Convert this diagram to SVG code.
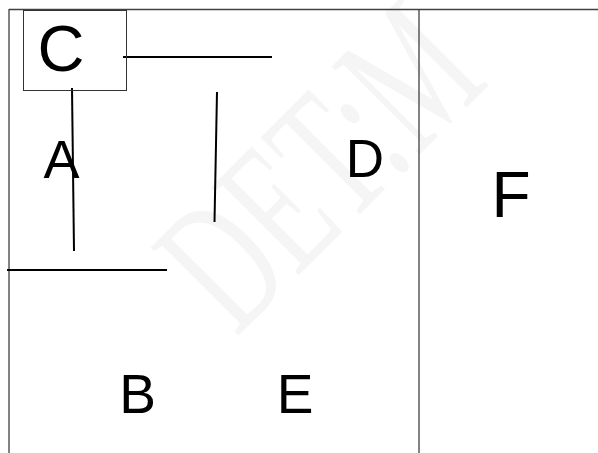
<svg xmlns="http://www.w3.org/2000/svg" width="598" height="453" viewBox="0 0 598 453">
<style>
.frame{stroke:#404040;stroke-width:1.3;fill:none}
.ln{stroke:#000;stroke-width:2;fill:none}
.lbl{font-family:"Liberation Sans",Arial,sans-serif;fill:#000;text-anchor:middle}
.wm{font-family:"Liberation Serif","Times New Roman",serif;fill:#f5f5f5}
</style>
<rect width="598" height="453" fill="#fff"/>
<g id="watermark">
<text class="wm" font-size="190" transform="translate(236,338) rotate(-45) scale(0.62,1)">DET:M</text>
</g>
<g id="frame">
<path class="frame" d="M9,9.5H598M9,9V453M419,9.5V453"/>
</g>
<g id="connectors">
<line class="ln" x1="123" y1="57" x2="272" y2="57"/>
<line class="ln" x1="72" y1="88" x2="74" y2="251"/>
<line class="ln" x1="217" y1="92" x2="214.5" y2="222"/>
<line class="ln" x1="7" y1="270" x2="167" y2="270"/>
</g>
<g id="node-C">
<rect x="23.5" y="10.5" width="103" height="80" fill="none" stroke="#333" stroke-width="1"/>
<text class="lbl" x="61" y="71" font-size="65">C</text>
</g>
<g id="node-A"><text class="lbl" x="61.5" y="178" font-size="54">A</text></g>
<g id="node-D"><text class="lbl" x="365" y="177" font-size="53">D</text></g>
<g id="node-F"><text class="lbl" x="511" y="217" font-size="64">F</text></g>
<g id="node-B"><text class="lbl" x="137.5" y="413" font-size="55">B</text></g>
<g id="node-E"><text class="lbl" x="295" y="413" font-size="55">E</text></g>
</svg>
